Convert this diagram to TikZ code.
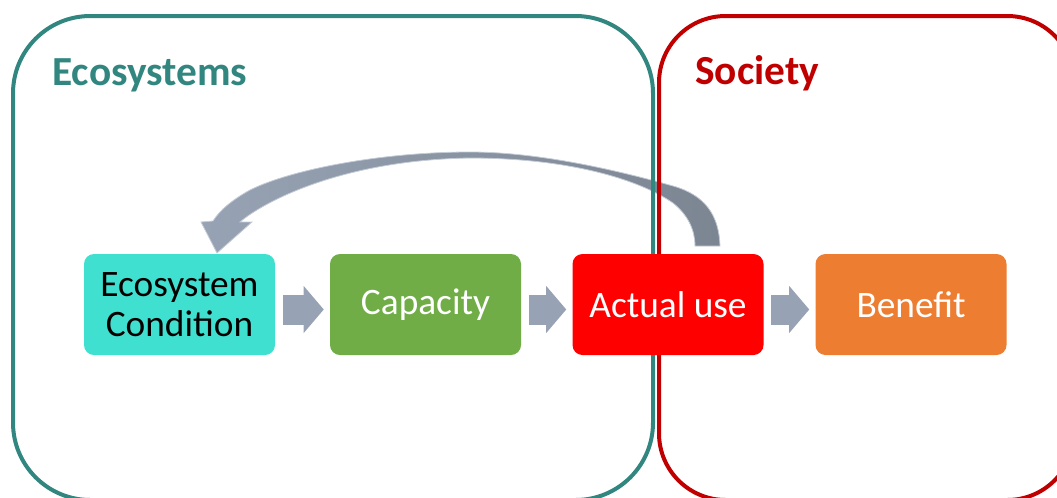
\documentclass[tikz,border=0pt]{standalone}
\usepackage{fontspec}
\setmainfont{Carlito}
\usetikzlibrary{arrows.meta,calc}
\definecolor{ecoteal}{RGB}{49,134,127}
\definecolor{socred}{RGB}{192,0,0}
\definecolor{condcyan}{RGB}{64,224,208}
\definecolor{capgreen}{RGB}{112,173,71}
\definecolor{usered}{RGB}{255,0,0}
\definecolor{benorange}{RGB}{237,125,49}
\definecolor{flowgray}{RGB}{151,163,180}
\definecolor{flowdark}{RGB}{124,133,146}
\definecolor{flowedge}{RGB}{196,204,215}
\begin{document}
\begin{tikzpicture}[x=0.75pt,y=-0.75pt,
  stage/.style={rounded corners=7.5pt, minimum width=143.25pt, minimum height=75.75pt,
    inner sep=0pt, align=center, font=\fontsize{28}{30}\selectfont},
  frame/.style={line width=3pt, rounded corners=#1},
  flow/.style={draw=flowgray, line width=22.5pt,
    -{Triangle[length=15pt,width=35.25pt,line width=0pt]},
    shorten <=5.6pt, shorten >=4.5pt},
  title/.style={font=\fontsize{31}{36}\selectfont\bfseries, anchor=base west, inner sep=0pt},
  feedback/.style={left color=flowgray, middle color=flowgray, right color=flowdark,
    draw=flowedge, line width=0.6pt}
]
\useasboundingbox (0,0) rectangle (1057,497);
\clip (0,0) rectangle (1057,497);

% feedback arrow from actual use back to ecosystem condition
\shadedraw[feedback]
  (720,246) .. controls (719,215) and (705,195) .. (673,186)
  .. controls (620,171) and (540,152) .. (470,152)
  .. controls (380,152) and (290,170) .. (250,190)
  .. controls (232,200) and (220,210) .. (213,221)
  -- (201,222) -- (217,253) -- (252,222) -- (240,222)
  .. controls (262,203) and (340,160) .. (470,158)
  .. controls (570,158) and (640,180) .. (673,203)
  .. controls (688,215) and (695,230) .. (695,246) -- cycle;

% the two domains
\draw[frame=58pt, ecoteal] (13,16) rectangle (653,500);
\draw[frame=50pt, socred] (659,16) rectangle (1074,500);

\node[title, text=ecoteal] (ecotitle) at (52,85) {Ecosystems};
\node[title, text=socred] (soctitle) at (695,84) {Society};

% stages
\node[stage, fill=condcyan] (cond) at (179.5,304.5) {Ecosystem\\Condition};
\node[stage, fill=capgreen, text=white] (cap) at (425.5,304.5) {Capacity};
\node[stage, fill=usered, text=white] (use) at (668,304.5) {Actual use};
\node[stage, fill=benorange, text=white] (ben) at (911,304.5) {Benefit};

% flow between stages
\draw[flow] ($(cond.east)+(0,5)$) -- ($(cap.west)+(0,5)$);
\draw[flow] ($(cap.east)+(0,5)$) -- ($(use.west)+(0,5)$);
\draw[flow] ($(use.east)+(0,5)$) -- ($(ben.west)+(0,5)$);
\end{tikzpicture}
\end{document}
